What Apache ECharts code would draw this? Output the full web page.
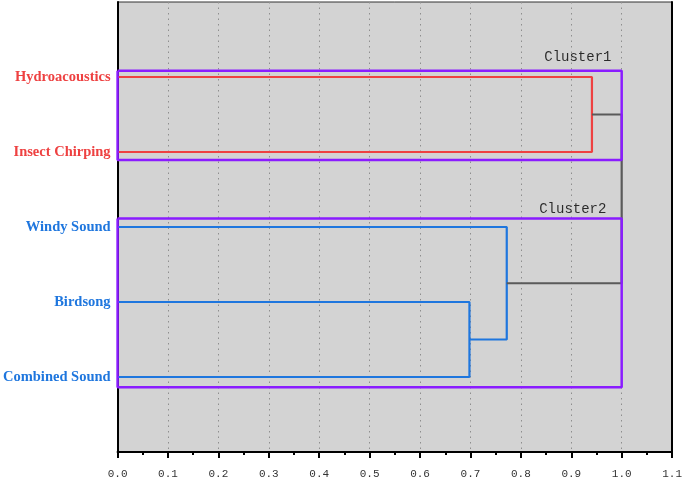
<!DOCTYPE html>
<html>
<head>
<meta charset="utf-8">
<script src="https://cdn.jsdelivr.net/npm/echarts@6/dist/echarts.min.js"></script>
<style>
html,body{margin:0;padding:0;background:#fff;}
#chart{width:685px;height:481px;}
</style>
</head>
<body>
<div id="chart"></div>
<script>
// Leaves (top to bottom) and their cluster colour group
const leaves = ['Hydroacoustics', 'Insect Chirping', 'Windy Sound', 'Birdsong', 'Combined Sound'];
const leafGroup = ['red', 'red', 'blue', 'blue', 'blue'];
// Linkage: ids 0..4 are leaves, merge k creates node id 5+k
const mergeLeft = [3, 2, 0, 7];
const mergeRight = [4, 5, 1, 6];
const mergeHeight = [0.698, 0.772, 0.941, 1.0];
const mergeGroup = ['blue', 'blue', 'red', 'gray'];
// Cluster boxes (distance extent and leaf-position extent)
const clusterNames = ['Cluster1', 'Cluster2'];
const clusterDist = [1.0, 1.0];
const clusterFrom = [0.915, 2.885];
const clusterTo = [2.105, 5.135];
const clusterLabelAt = [[0.913, 0.74], [0.903, 2.77]];
// x-axis ticks
const xTicks = [0.0, 0.1, 0.2, 0.3, 0.4, 0.5, 0.6, 0.7, 0.8, 0.9, 1.0, 1.1];

const palette = { red: '#EE4141', blue: '#1E76DE', gray: '#5A5A5A', purple: '#8A1CFF' };

const pos = {};
leaves.forEach((n, i) => { pos[i] = [0, i + 1]; });
const series = [];
mergeHeight.forEach((h, k) => {
  const a = pos[mergeLeft[k]], b = pos[mergeRight[k]];
  pos[5 + k] = [h, (a[1] + b[1]) / 2];
  series.push({
    type: 'line', data: [[a[0], a[1]], [h, a[1]], [h, b[1]], [b[0], b[1]]],
    symbol: 'none', animation: false, z: 3,
    lineStyle: { color: palette[mergeGroup[k]], width: 2.2 }
  });
});
clusterNames.forEach((c, i) => {
  series.push({
    type: 'line',
    data: [[0, clusterFrom[i]], [clusterDist[i], clusterFrom[i]], [clusterDist[i], clusterTo[i]], [0, clusterTo[i]], [0, clusterFrom[i]]],
    symbol: 'none', animation: false, z: 4,
    lineStyle: { color: palette.purple, width: 2.5 }
  });
});
series.push({
  type: 'scatter', animation: false, z: 5, symbolSize: 1,
  itemStyle: { color: 'rgba(0,0,0,0)' },
  data: clusterNames.map((c, i) => ({ name: c, value: clusterLabelAt[i] })),
  label: { show: true, position: 'inside', formatter: '{b}', color: '#000',
    fontFamily: 'Liberation Mono', fontSize: 14 }
});

const rich = {};
leafGroup.forEach((g, i) => {
  rich['c' + i] = { color: palette[g], fontFamily: 'Liberation Serif', fontWeight: 'bold', fontSize: 14.5 };
});

const chart = echarts.init(document.getElementById('chart'));
chart.setOption({
  animation: false,
  grid: { left: 117, right: 10, top: 2, bottom: 29, show: true,
    backgroundColor: '#D3D3D3', borderColor: '#333', borderWidth: 1 },
  xAxis: {
    type: 'value', position: 'bottom', min: xTicks[0], max: xTicks[xTicks.length - 1], interval: 0.1,
    axisLine: { show: true, onZero: false, lineStyle: { color: '#000', width: 2 } },
    axisTick: { show: true, inside: false, length: 6, lineStyle: { color: '#000', width: 2 } },
    minorTick: { show: true, splitNumber: 2, length: 3, lineStyle: { color: '#000', width: 2 } },
    axisLabel: { formatter: v => v.toFixed(1), fontFamily: 'Liberation Mono', fontSize: 11,
      color: '#333', margin: 17, showMinLabel: true, showMaxLabel: true },
    splitLine: { show: true, lineStyle: { color: '#8E8E8E', width: 1, type: [1.5, 4] } }
  },
  yAxis: [{
    type: 'value', min: 0, max: 6, interval: 1, inverse: true,
    axisLine: { show: true, onZero: false, lineStyle: { color: '#000', width: 2 } },
    axisTick: { show: false }, splitLine: { show: false },
    axisLabel: { margin: 7, formatter: v => (v >= 1 && v <= leaves.length) ? '{c' + (v - 1) + '|' + leaves[v - 1] + '}' : '', rich: rich }
  }, {
    type: 'value', min: 0, max: 6, interval: 1, inverse: true, position: 'right',
    axisLine: { show: true, onZero: false, lineStyle: { color: '#000', width: 2 } },
    axisTick: { show: false }, splitLine: { show: false }, axisLabel: { show: false }
  }],
  series: series
});
</script>
</body>
</html>
